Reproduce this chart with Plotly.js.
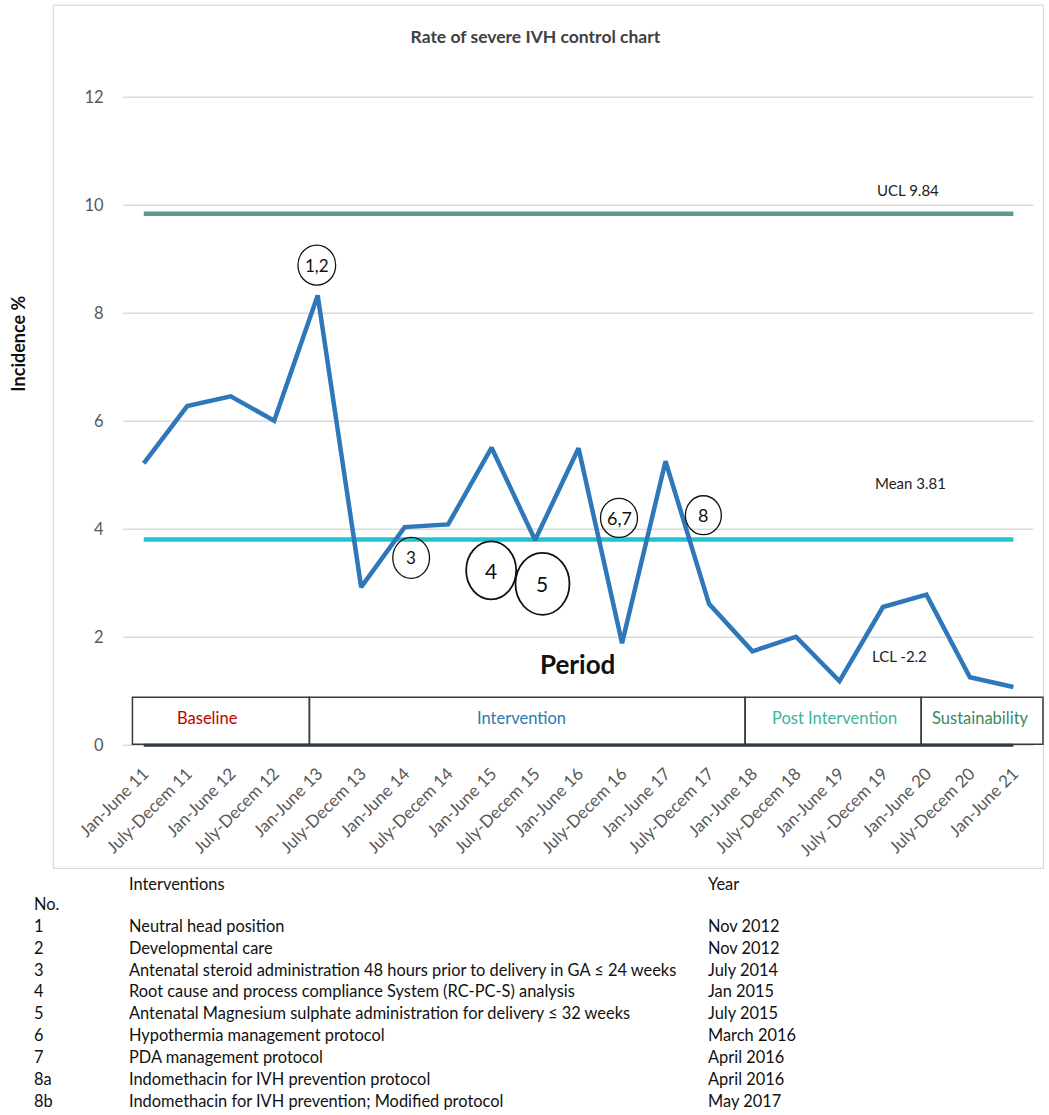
<!DOCTYPE html>
<html>
<head>
<meta charset="utf-8">
<script src="https://cdn.plot.ly/plotly-3.0.1.min.js"></script>
<style>
html,body{margin:0;padding:0;background:#fff;}
#chart{width:1049px;height:1115px;}
</style>
</head>
<body>
<div id="chart"></div>
<script>
// ---------------- data ----------------
const categories = ["Jan-June 11","July-Decem 11","Jan-June 12","July-Decem 12","Jan-June 13","July-Decem 13","Jan-June 14","July-Decem 14","Jan-June 15","July-Decem 15","Jan-June 16","July-Decem 16","Jan-June 17","July-Decem 17","Jan-June 18","July-Decem 18","Jan-June 19","July -Decem 19","Jan-June 20","July-Decem 20","Jan-June 21"];
const incidence = [5.22,6.28,6.46,6.01,8.33,2.93,4.04,4.09,5.51,3.80,5.50,1.89,5.26,2.62,1.74,2.01,1.19,2.56,2.79,1.26,1.08];
const uclValue = 9.84;
const meanValue = 3.81;
const lclValue = -2.2;
const yTicks = [0,2,4,6,8,10,12];

const periodNames = ["Baseline","Intervention","Post Intervention","Sustainability"];
const periodStart = [-0.26, 3.81, 13.83, 17.88];
const periodEnd   = [3.81, 13.83, 17.88, 20.68];

const markerLabels = ["1,2","3","4","5","6,7","8"];
const markerX = [3.98, 6.15, 7.99, 9.17, 10.93, 12.87];
const markerY = [8.89, 3.47, 3.24, 2.99, 4.21, 4.26];

const interventionNo = ["1","2","3","4","5","6","7","8a","8b"];
const interventionText = [
  "Neutral head position",
  "Developmental care",
  "Antenatal steroid administration 48 hours prior to delivery in GA \u2264 24 weeks",
  "Root cause and process compliance System (RC-PC-S) analysis",
  "Antenatal Magnesium sulphate administration for delivery \u2264 32 weeks",
  "Hypothermia management protocol",
  "PDA management protocol",
  "Indomethacin for IVH prevention protocol",
  "Indomethacin for IVH prevention; Modified protocol"
];
const interventionYear = ["Nov 2012","Nov 2012","July 2014","Jan 2015","July 2015","March 2016","April 2016","April 2016","May 2017"];

// ---------------- styles / layout geometry ----------------
const FONT = "Lato, 'Open Sans', sans-serif";
const W = 1049, H = 1115;
const L = 121.6, PW = 924, T = 53.8, PH = 693.9;
const fx = px => (px - L) / PW;
const fy = py => (T + PH - py) / PH;
const periodColors = ["#C00000","#2B7AB0","#3DB49C","#3B8A5C"];
const periodLabelX = [1.47, 8.69, 15.89, 19.24];
const markerW = [0.867,0.844,1.15,1.242,0.851,0.828];
const markerH = [0.741,0.759,1.074,1.148,0.722,0.722];
const markerFont = [17,17,21,21,18,18];
const TABLE_SIZE = 16.4;

const xIdx = categories.map((c,i)=>i);

const traces = [
  {x:xIdx, y:xIdx.map(()=>uclValue), type:'scatter', mode:'lines', line:{color:'#5B9C92', width:4.5}, hoverinfo:'skip', showlegend:false},
  {x:xIdx, y:xIdx.map(()=>meanValue), type:'scatter', mode:'lines', line:{color:'#22C3D1', width:4.5}, hoverinfo:'skip', showlegend:false},
  {x:xIdx, y:incidence, type:'scatter', mode:'lines', line:{color:'#2E78BA', width:4.5}, showlegend:false}
];

const shapes = [];
// frame
shapes.push({type:'rect', xref:'paper', yref:'paper', x0:fx(53), x1:fx(1043), y0:fy(868), y1:fy(5), line:{color:'#D9D9D9', width:1.2}, layer:'below'});
// gridlines
yTicks.forEach(v=>{
  shapes.push({type:'line', xref:'x', yref:'y', x0:-0.47, x1:20.46, y0:v, y1:v, line:{color:'#D9D9D9', width:1.5}, layer:'below'});
});
// dark base line
shapes.push({type:'line', xref:'x', yref:'y', x0:0, x1:20, y0:0, y1:0, line:{color:'#1F3A5F', width:3}, layer:'above'});
// period boxes
periodNames.forEach((n,i)=>{
  shapes.push({type:'rect', xref:'x', yref:'y', x0:periodStart[i], x1:periodEnd[i], y0:0.02, y1:0.89, line:{color:'#3A3A3A', width:1.5}, fillcolor:'rgba(255,255,255,0)', layer:'above'});
});
// circles
markerLabels.forEach((m,i)=>{
  shapes.push({type:'circle', xref:'x', yref:'y', x0:markerX[i]-markerW[i]/2, x1:markerX[i]+markerW[i]/2, y0:markerY[i]-markerH[i]/2, y1:markerY[i]+markerH[i]/2, line:{color:'#111', width: markerFont[i]>19?1.8:1.3}, layer:'above'});
});

const ann = [];
markerLabels.forEach((m,i)=>{
  ann.push({xref:'x', yref:'y', x:markerX[i], y:markerY[i], text:m, showarrow:false, font:{family:FONT, size:markerFont[i], color:'#111'}, xanchor:'center', yanchor:'middle'});
});
periodNames.forEach((n,i)=>{
  ann.push({xref:'x', yref:'y', x:periodLabelX[i], y:0.5, text:n, showarrow:false, font:{family:FONT, size:16.5, color:periodColors[i]}, xanchor:'center', yanchor:'middle'});
});
// control limit labels
ann.push({xref:'paper', yref:'paper', x:fx(875), y:fy(190), text:'UCL 9.84', showarrow:false, xanchor:'left', yanchor:'middle', font:{family:FONT, size:15, color:'#222'}});
ann.push({xref:'paper', yref:'paper', x:fx(873), y:fy(483), text:'Mean '+meanValue.toFixed(2), showarrow:false, xanchor:'left', yanchor:'middle', font:{family:FONT, size:15, color:'#222'}});
ann.push({xref:'paper', yref:'paper', x:fx(870), y:fy(656), text:'LCL '+lclValue, showarrow:false, xanchor:'left', yanchor:'middle', font:{family:FONT, size:15, color:'#222'}});
ann.push({xref:'paper', yref:'paper', x:fx(577), y:fy(664), text:'Period', showarrow:false, xanchor:'center', yanchor:'middle', font:{family:FONT, size:26, color:'#111', weight:700}});
// y axis title
ann.push({xref:'paper', yref:'paper', x:fx(18), y:fy(343), text:'Incidence %', textangle:-90, showarrow:false, xanchor:'center', yanchor:'middle', font:{family:FONT, size:18, color:'#111', weight:700}});
// table
ann.push({xref:'paper', yref:'paper', x:fx(127), y:fy(883), text:'Interventions', showarrow:false, xanchor:'left', yanchor:'middle', font:{family:FONT, size:TABLE_SIZE, color:'#111'}});
ann.push({xref:'paper', yref:'paper', x:fx(706), y:fy(883), text:'Year', showarrow:false, xanchor:'left', yanchor:'middle', font:{family:FONT, size:TABLE_SIZE, color:'#111'}});
ann.push({xref:'paper', yref:'paper', x:fx(32), y:fy(903), text:'No.', showarrow:false, xanchor:'left', yanchor:'middle', font:{family:FONT, size:TABLE_SIZE, color:'#111'}});
interventionNo.forEach((n,i)=>{
  const py = 925 + i*21.85;
  ann.push({xref:'paper', yref:'paper', x:fx(32), y:fy(py), text:n, showarrow:false, xanchor:'left', yanchor:'middle', font:{family:FONT, size:TABLE_SIZE, color:'#111'}});
  ann.push({xref:'paper', yref:'paper', x:fx(127), y:fy(py), text:interventionText[i], showarrow:false, xanchor:'left', yanchor:'middle', font:{family:FONT, size:TABLE_SIZE, color:'#111'}});
  ann.push({xref:'paper', yref:'paper', x:fx(706), y:fy(py), text:interventionYear[i], showarrow:false, xanchor:'left', yanchor:'middle', font:{family:FONT, size:TABLE_SIZE, color:'#111'}});
});

const layout = {
  width: W, height: H,
  margin: {l:L, r:W-L-PW, t:T, b:H-T-PH, pad:0},
  paper_bgcolor:'#fff', plot_bgcolor:'rgba(0,0,0,0)',
  title: {text:'Rate of severe IVH control chart', xref:'paper', x:fx(535), xanchor:'center', yref:'container', y:1-37/H, yanchor:'middle', font:{family:FONT, size:17.5, color:'#404040', weight:700}},
  xaxis: {range:[-0.5, 20.75], tickmode:'array', tickvals:xIdx, ticktext:categories, tickangle:-45, showgrid:false, zeroline:false, showline:false, ticks:'outside', ticklen:8, tickcolor:'rgba(0,0,0,0)', tickfont:{family:FONT, size:17, color:'#595959'}, fixedrange:true},
  yaxis: {range:[-0.05, 12.8], tickmode:'array', tickvals:yTicks, showgrid:false, zeroline:false, showline:false, ticks:'outside', ticklen:14, tickcolor:'rgba(0,0,0,0)', tickfont:{family:FONT, size:16.5, color:'#595959'}, fixedrange:true},
  shapes: shapes,
  annotations: ann,
  showlegend:false
};

Plotly.newPlot('chart', traces, layout, {displayModeBar:false, staticPlot:true});
</script>
</body>
</html>
